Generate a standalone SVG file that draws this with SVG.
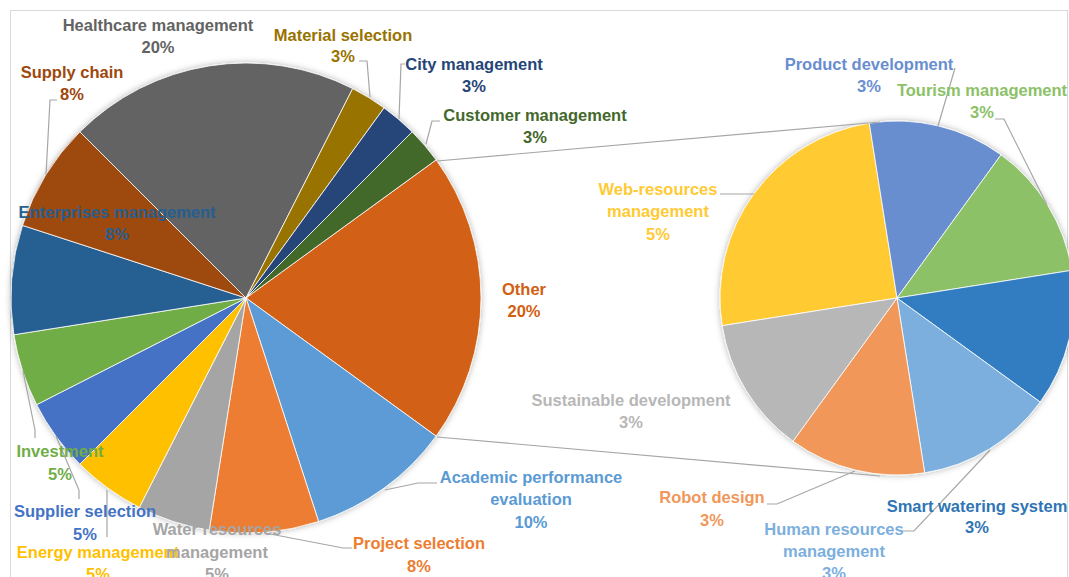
<svg xmlns="http://www.w3.org/2000/svg" width="1069" height="577" viewBox="0 0 1069 577">
<defs>
<filter id="sh" x="-10%" y="-10%" width="120%" height="120%">
<feDropShadow dx="0" dy="0" stdDeviation="3" flood-color="#000" flood-opacity="0.3"/>
</filter>
<style>
.s{stroke:#fff;stroke-width:1;stroke-opacity:0.8}
.ld{fill:none;stroke:#A6A6A6;stroke-width:1.2}
text{font-family:"Liberation Sans",Arial,sans-serif;font-weight:bold;font-size:16.5px;text-anchor:middle}
</style>
</defs>
<rect x="0" y="0" width="1069" height="577" fill="#fff"/>
<rect x="10.5" y="10.5" width="1057" height="620" fill="none" stroke="#D9D9D9" stroke-width="1"/>

<g id="main-pie" filter="url(#sh)">
<path id="s-other" class="s" fill="#D26012" d="M246,298 L436.12,159.87 A235,235 0 0 1 436.12,436.13 Z"/>
<path id="s-academic" class="s" fill="#5B9BD5" d="M246,298 L436.12,436.13 A235,235 0 0 1 318.62,521.5 Z"/>
<path id="s-project" class="s" fill="#ED7D31" d="M246,298 L318.62,521.5 A235,235 0 0 1 209.24,530.11 Z"/>
<path id="s-water" class="s" fill="#A5A5A5" d="M246,298 L209.24,530.11 A235,235 0 0 1 139.31,507.39 Z"/>
<path id="s-energy" class="s" fill="#FFC000" d="M246,298 L139.31,507.39 A235,235 0 0 1 79.83,464.17 Z"/>
<path id="s-supplier" class="s" fill="#4472C4" d="M246,298 L79.83,464.17 A235,235 0 0 1 36.61,404.69 Z"/>
<path id="s-investment" class="s" fill="#70AD47" d="M246,298 L36.61,404.69 A235,235 0 0 1 13.89,334.76 Z"/>
<path id="s-enterprises" class="s" fill="#255E91" d="M246,298 L13.89,334.76 A235,235 0 0 1 22.5,225.38 Z"/>
<path id="s-supply" class="s" fill="#9E480E" d="M246,298 L22.5,225.38 A235,235 0 0 1 79.83,131.83 Z"/>
<path id="s-healthcare" class="s" fill="#636363" d="M246,298 L79.83,131.83 A235,235 0 0 1 352.69,88.61 Z"/>
<path id="s-material" class="s" fill="#997300" d="M246,298 L352.69,88.61 A235,235 0 0 1 384.13,107.88 Z"/>
<path id="s-city" class="s" fill="#264478" d="M246,298 L384.13,107.88 A235,235 0 0 1 412.17,131.83 Z"/>
<path id="s-customer" class="s" fill="#43682B" d="M246,298 L412.17,131.83 A235,235 0 0 1 436.12,159.87 Z"/>
</g>

<g id="sub-pie" filter="url(#sh)">
<path id="s-web" class="s" fill="#FFCA33" d="M897,298 L722.18,325.69 A177,177 0 0 1 869.31,123.18 Z"/>
<path id="s-product" class="s" fill="#698ED0" d="M897,298 L869.31,123.18 A177,177 0 0 1 1001.04,154.8 Z"/>
<path id="s-tourism" class="s" fill="#8CC168" d="M897,298 L1001.04,154.8 A177,177 0 0 1 1071.82,270.31 Z"/>
<path id="s-smart" class="s" fill="#327DC2" d="M897,298 L1071.82,270.31 A177,177 0 0 1 1040.2,402.04 Z"/>
<path id="s-human" class="s" fill="#7CAFDD" d="M897,298 L1040.2,402.04 A177,177 0 0 1 924.69,472.82 Z"/>
<path id="s-robot" class="s" fill="#F1975A" d="M897,298 L924.69,472.82 A177,177 0 0 1 792.96,441.2 Z"/>
<path id="s-sustainable" class="s" fill="#B7B7B7" d="M897,298 L792.96,441.2 A177,177 0 0 1 722.18,325.69 Z"/>
</g>

<g id="connectors">
<line class="ld" x1="437" y1="161" x2="880" y2="122"/>
<line class="ld" x1="437" y1="437" x2="880" y2="476"/>
<polyline class="ld" points="359,61 367,61 370,97"/>
<polyline class="ld" points="405,64 401,64 399,119"/>
<polyline class="ld" points="440,121 432,121 426,144"/>
<polyline class="ld" points="57,100 50,100 46,175"/>
<polyline class="ld" points="437,483 418,483 385,490"/>
<polyline class="ld" points="352,548 343,548 265,533"/>
<polyline class="ld" points="107,537 107,490"/>
<polyline class="ld" points="79,499 79,490 56,436"/>
<polyline class="ld" points="35,438 35,430 23,371"/>
<polyline class="ld" points="955,68 938,126"/>
<polyline class="ld" points="995,119 1004,119 1047,205"/>
<polyline class="ld" points="720,194 754,194"/>
<polyline class="ld" points="767,504 777,504 855,471"/>
<polyline class="ld" points="903,531 914,531 990,450"/>
</g>

<g id="labels">
<g id="l-healthcare" fill="#636363"><text x="158" y="31">Healthcare management</text><text x="158" y="53">20%</text></g>
<g id="l-material" fill="#997300"><text x="343" y="41">Material selection</text><text x="343" y="62">3%</text></g>
<g id="l-city" fill="#264478"><text x="474" y="70">City management</text><text x="474" y="92">3%</text></g>
<g id="l-customer" fill="#43682B"><text x="535" y="121">Customer management</text><text x="535" y="143">3%</text></g>
<g id="l-supply" fill="#9E480E"><text x="72" y="78">Supply chain</text><text x="72" y="100">8%</text></g>
<g id="l-enterprises" fill="#255E91"><text x="117" y="218">Enterprises management</text><text x="117" y="240">8%</text></g>
<g id="l-other" fill="#D26012"><text x="524" y="295">Other</text><text x="524" y="317">20%</text></g>
<g id="l-academic" fill="#5B9BD5"><text x="531" y="483">Academic performance</text><text x="531" y="505">evaluation</text><text x="531" y="528">10%</text></g>
<g id="l-project" fill="#ED7D31"><text x="419" y="549">Project selection</text><text x="419" y="572">8%</text></g>
<g id="l-energy" fill="#FFC000"><text x="98" y="558">Energy management</text><text x="98" y="580">5%</text></g>
<g id="l-water" fill="#A5A5A5"><text x="217" y="535">Water resources</text><text x="217" y="558">management</text><text x="217" y="580">5%</text></g>
<g id="l-supplier" fill="#4472C4"><text x="85" y="517">Supplier selection</text><text x="85" y="540">5%</text></g>
<g id="l-investment" fill="#70AD47"><text x="60" y="457">Investment</text><text x="60" y="480">5%</text></g>
<g id="l-product" fill="#698ED0"><text x="869" y="70">Product development</text><text x="869" y="92">3%</text></g>
<g id="l-tourism" fill="#8CC168"><text x="982" y="96">Tourism management</text><text x="982" y="118">3%</text></g>
<g id="l-web" fill="#FFCA33"><text x="658" y="195">Web-resources</text><text x="658" y="217">management</text><text x="658" y="240">5%</text></g>
<g id="l-sustainable" fill="#B7B7B7"><text x="631" y="406">Sustainable development</text><text x="631" y="428">3%</text></g>
<g id="l-robot" fill="#F1975A"><text x="712" y="503">Robot design</text><text x="712" y="526">3%</text></g>
<g id="l-human" fill="#7CAFDD"><text x="834" y="535">Human resources</text><text x="834" y="557">management</text><text x="834" y="579">3%</text></g>
<g id="l-smart" fill="#2F75B5"><text x="977" y="512">Smart watering system</text><text x="977" y="533">3%</text></g>
</g>
</svg>
